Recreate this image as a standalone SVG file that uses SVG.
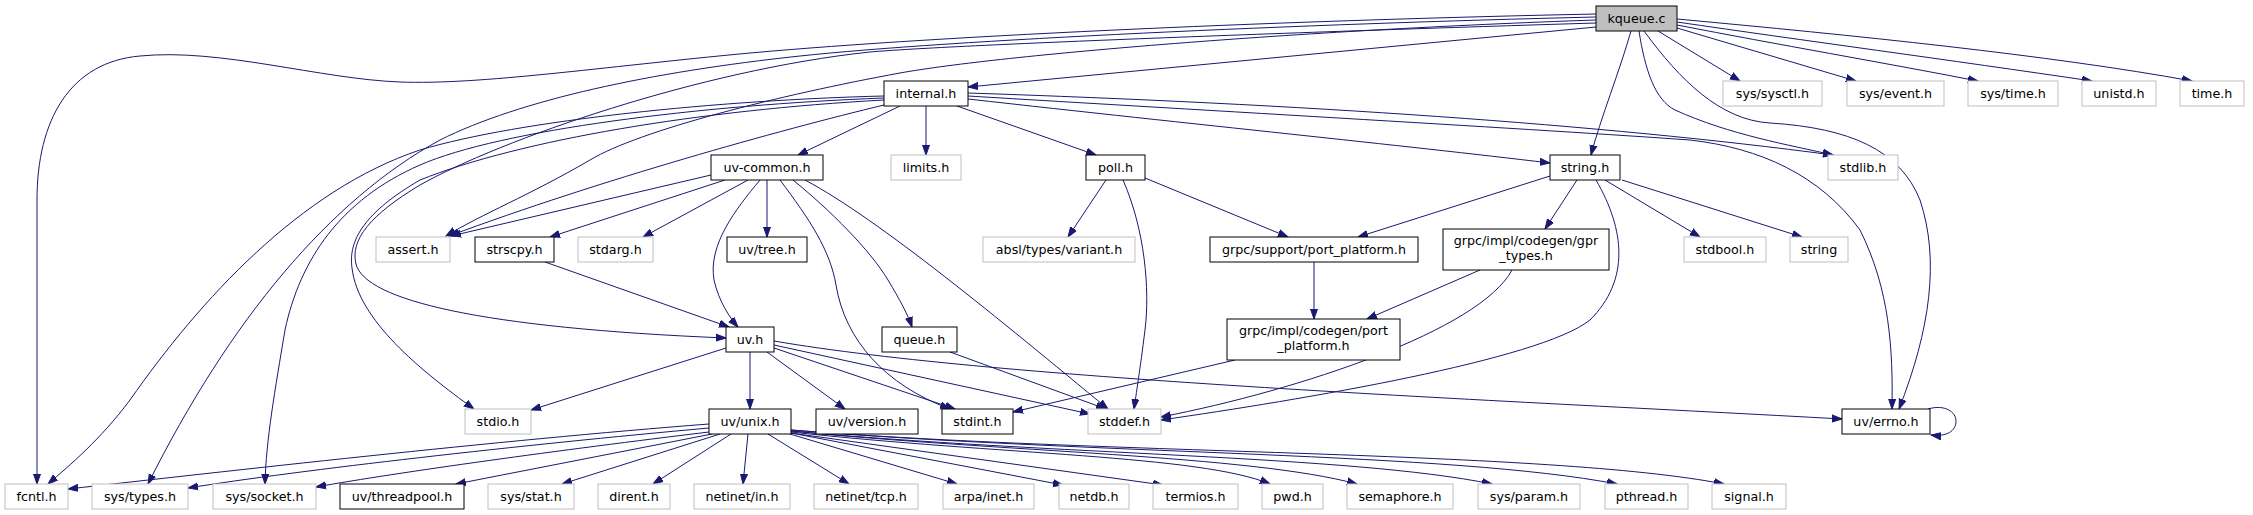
<svg xmlns="http://www.w3.org/2000/svg" width="2253" height="515" viewBox="0 0 2253 515">
<style>
.e{fill:none;stroke:#191970;stroke-width:1;marker-end:url(#a)}
.b{fill:#fff;stroke:#000;stroke-width:1}
.g{fill:#fff;stroke:#bfbfbf;stroke-width:1}
.r{fill:#bfbfbf;stroke:#000;stroke-width:1}
text{font-family:"DejaVu Sans","Liberation Sans",sans-serif;font-size:12.7px;fill:#000;text-anchor:middle}
</style>
<defs>
<marker id="a" markerWidth="11" markerHeight="9" refX="10" refY="4.5" orient="auto" markerUnits="userSpaceOnUse"><path d="M0,1 L10,4.5 L0,8 z" fill="#191970" stroke="#191970"/></marker>
</defs>
<rect width="2253" height="515" fill="#fff"/>
<g id="edges">
<!-- kqueue.c -->
<path class="e" d="M1596,27 L968,87"/>
<path class="e" d="M1631,31 C1620,70 1600,120 1591,155"/>
<path class="e" d="M1639,31 C1645,70 1655,100 1675,110 C1730,135 1790,145 1833,155"/>
<path class="e" d="M1644,31 C1680,80 1720,120 1770,123 C1850,128 1900,150 1920,200 C1940,260 1930,330 1899,409"/>
<path class="e" d="M1658,31 L1740,81"/>
<path class="e" d="M1677,28 L1856,81"/>
<path class="e" d="M1677,25 C1780,45 1880,62 1978,81"/>
<path class="e" d="M1677,22 C1800,40 1950,60 2092,81"/>
<path class="e" d="M1677,19 C1850,35 2050,55 2192,81"/>
<path class="e" d="M1596,14 C1300,20 950,35 750,53 C600,67 480,85 400,82 C320,79 220,48 140,56 C70,62 37,120 37,200 L37,484"/>
<path class="e" d="M1596,17 C1300,24 950,40 800,56 C650,72 520,100 440,140 C330,200 230,320 148,484"/>
<path class="e" d="M1596,20 C1300,30 1000,55 900,73 C780,95 640,130 590,160 C530,195 480,215 446,236"/>
<path class="e" d="M1596,23 C1300,32 950,45 870,52 C700,70 500,140 420,185 C370,215 350,240 356,264 C365,300 480,328 726,338"/>
<!-- internal.h -->
<path class="e" d="M900,106 L798,155"/>
<path class="e" d="M926,106 L926,155"/>
<path class="e" d="M957,106 L1096,155"/>
<path class="e" d="M968,99 C1200,125 1400,145 1550,163"/>
<path class="e" d="M968,93 C1300,104 1600,124 1833,155"/>
<path class="e" d="M968,96 C1200,110 1550,130 1690,140 C1760,148 1820,175 1860,230 C1890,290 1893,350 1892,409"/>
<path class="e" d="M884,105 C780,130 600,180 449,236"/>
<path class="e" d="M884,96 C720,100 520,120 420,150 C300,190 200,300 130,400 C100,440 70,465 48,484"/>
<path class="e" d="M884,98 C700,105 500,130 420,165 C340,200 300,260 285,330 C275,390 266,440 265,484"/>
<path class="e" d="M884,100 C700,110 520,140 420,180 C365,212 348,240 352,268 C358,320 420,370 474,409"/>
<!-- uv-common.h -->
<path class="e" d="M711,175 L451,236"/>
<path class="e" d="M725,180 L550,237"/>
<path class="e" d="M748,180 L643,237"/>
<path class="e" d="M767,180 L767,237"/>
<path class="e" d="M760,180 C735,210 708,245 714,280 C719,302 730,318 738,327"/>
<path class="e" d="M780,180 C810,220 830,250 836,285 C845,340 885,385 950,409"/>
<path class="e" d="M793,180 C830,210 870,250 888,280 C900,300 908,315 912,327"/>
<path class="e" d="M805,180 C880,220 1000,320 1108,409"/>
<!-- strscpy.h -->
<path class="e" d="M545,262 L729,327"/>
<!-- poll.h -->
<path class="e" d="M1106,180 L1068,237"/>
<path class="e" d="M1145,178 L1288,237"/>
<path class="e" d="M1123,180 C1145,230 1150,290 1145,330 C1140,370 1136,395 1134,409"/>
<!-- string.h -->
<path class="e" d="M1550,176 L1358,237"/>
<path class="e" d="M1577,180 L1545,229"/>
<path class="e" d="M1596,180 C1625,230 1630,280 1590,320 C1540,360 1300,400 1161,420"/>
<path class="e" d="M1605,180 L1700,237"/>
<path class="e" d="M1622,180 L1802,237"/>
<!-- grpc -->
<path class="e" d="M1314,262 L1314,319"/>
<path class="e" d="M1480,270 L1367,319"/>
<path class="e" d="M1512,270 C1480,330 1300,390 1161,417"/>
<path class="e" d="M1235,360 L1013,412"/>
<!-- queue.h -->
<path class="e" d="M950,352 L1106,409"/>
<!-- uv.h -->
<path class="e" d="M726,348 L531,410"/>
<path class="e" d="M750,352 L750,409"/>
<path class="e" d="M767,352 L845,409"/>
<path class="e" d="M774,348 L955,409"/>
<path class="e" d="M774,345 L1090,414"/>
<path class="e" d="M774,341 C1000,380 1500,400 1842,419"/>
<!-- uv/errno.h self -->
<path class="e" d="M1928,409 C1945,404 1956,412 1956,421 C1956,431 1947,437 1931,435"/>
<!-- uv/unix.h -->
<path class="e" d="M709,424 C500,440 220,472 68,489"/>
<path class="e" d="M709,428 C520,445 300,470 188,488"/>
<path class="e" d="M709,432 C560,450 400,472 316,487"/>
<path class="e" d="M712,434 L456,484"/>
<path class="e" d="M720,434 L562,484"/>
<path class="e" d="M731,434 L653,484"/>
<path class="e" d="M748,434 L743,484"/>
<path class="e" d="M768,434 L849,484"/>
<path class="e" d="M790,434 L957,484"/>
<path class="e" d="M791,433 L1063,485"/>
<path class="e" d="M791,433 L1163,485"/>
<path class="e" d="M791,432 C1000,455 1200,455 1270,484"/>
<path class="e" d="M791,431 C1000,452 1250,455 1357,484"/>
<path class="e" d="M791,431 C1050,455 1350,455 1492,484"/>
<path class="e" d="M791,430 C1100,455 1450,452 1617,484"/>
<path class="e" d="M791,430 C1100,455 1550,450 1724,484"/>
</g>
<g id="n_kqueue"><rect class="r" x="1596" y="6" width="81" height="25"/><text x="1636.5" y="23">kqueue.c</text></g>
<g id="n_internal"><rect class="b" x="884" y="81" width="84" height="25"/><text x="926" y="98">internal.h</text></g>
<g id="n_sysctl"><rect class="g" x="1723" y="81" width="99" height="25"/><text x="1772.5" y="98">sys/sysctl.h</text></g>
<g id="n_event"><rect class="g" x="1847" y="81" width="97" height="25"/><text x="1895.5" y="98">sys/event.h</text></g>
<g id="n_systime"><rect class="g" x="1968" y="81" width="90" height="25"/><text x="2013" y="98">sys/time.h</text></g>
<g id="n_unistd"><rect class="g" x="2082" y="81" width="74" height="25"/><text x="2119" y="98">unistd.h</text></g>
<g id="n_time"><rect class="g" x="2180" y="81" width="64" height="25"/><text x="2212" y="98">time.h</text></g>
<g id="n_uvcommon"><rect class="b" x="711" y="155" width="112" height="25"/><text x="767" y="172">uv-common.h</text></g>
<g id="n_limits"><rect class="g" x="891" y="155" width="70" height="25"/><text x="926" y="172">limits.h</text></g>
<g id="n_poll"><rect class="b" x="1086" y="155" width="59" height="25"/><text x="1115.5" y="172">poll.h</text></g>
<g id="n_stringh"><rect class="b" x="1550" y="155" width="70" height="25"/><text x="1585" y="172">string.h</text></g>
<g id="n_stdlib"><rect class="g" x="1828" y="155" width="70" height="25"/><text x="1863" y="172">stdlib.h</text></g>
<g id="n_assert"><rect class="g" x="376" y="237" width="74" height="25"/><text x="413" y="254">assert.h</text></g>
<g id="n_strscpy"><rect class="b" x="475" y="237" width="79" height="25"/><text x="514.5" y="254">strscpy.h</text></g>
<g id="n_stdarg"><rect class="g" x="578" y="237" width="75" height="25"/><text x="615.5" y="254">stdarg.h</text></g>
<g id="n_uvtree"><rect class="b" x="727" y="237" width="80" height="25"/><text x="767" y="254">uv/tree.h</text></g>
<g id="n_absl"><rect class="g" x="983" y="237" width="152" height="25"/><text x="1059" y="254">absl/types/variant.h</text></g>
<g id="n_grpcsupport"><rect class="b" x="1210" y="237" width="208" height="25"/><text x="1314" y="254">grpc/support/port_platform.h</text></g>
<g id="n_gprtypes"><rect class="b" x="1443" y="229" width="166" height="41"/><text x="1526" y="245">grpc/impl/codegen/gpr</text><text x="1526" y="260">_types.h</text></g>
<g id="n_stdbool"><rect class="g" x="1684" y="237" width="82" height="25"/><text x="1725" y="254">stdbool.h</text></g>
<g id="n_string"><rect class="g" x="1790" y="237" width="58" height="25"/><text x="1819" y="254">string</text></g>
<g id="n_uv"><rect class="b" x="726" y="327" width="48" height="25"/><text x="750" y="344">uv.h</text></g>
<g id="n_queue"><rect class="b" x="882" y="327" width="75" height="25"/><text x="919.5" y="344">queue.h</text></g>
<g id="n_codegenpp"><rect class="b" x="1227" y="319" width="173" height="41"/><text x="1313.5" y="335">grpc/impl/codegen/port</text><text x="1313.5" y="350">_platform.h</text></g>
<g id="n_stdio"><rect class="g" x="465" y="409" width="66" height="25"/><text x="498" y="426">stdio.h</text></g>
<g id="n_uvunix"><rect class="b" x="709" y="409" width="82" height="25"/><text x="750" y="426">uv/unix.h</text></g>
<g id="n_uvversion"><rect class="b" x="816" y="409" width="102" height="25"/><text x="867" y="426">uv/version.h</text></g>
<g id="n_stdint"><rect class="b" x="942" y="409" width="71" height="25"/><text x="977.5" y="426">stdint.h</text></g>
<g id="n_stddef"><rect class="g" x="1088" y="409" width="73" height="25"/><text x="1124.5" y="426">stddef.h</text></g>
<g id="n_uverrno"><rect class="b" x="1842" y="409" width="88" height="25"/><text x="1886" y="426">uv/errno.h</text></g>
<g id="n_fcntl"><rect class="g" x="5" y="484" width="63" height="25"/><text x="36.5" y="501">fcntl.h</text></g>
<g id="n_systypes"><rect class="g" x="92" y="484" width="96" height="25"/><text x="140" y="501">sys/types.h</text></g>
<g id="n_syssocket"><rect class="g" x="213" y="484" width="103" height="25"/><text x="264.5" y="501">sys/socket.h</text></g>
<g id="n_threadpool"><rect class="b" x="340" y="484" width="124" height="25"/><text x="402" y="501">uv/threadpool.h</text></g>
<g id="n_sysstat"><rect class="g" x="488" y="484" width="86" height="25"/><text x="531" y="501">sys/stat.h</text></g>
<g id="n_dirent"><rect class="g" x="598" y="484" width="72" height="25"/><text x="634" y="501">dirent.h</text></g>
<g id="n_netinetin"><rect class="g" x="694" y="484" width="96" height="25"/><text x="742" y="501">netinet/in.h</text></g>
<g id="n_netinettcp"><rect class="g" x="814" y="484" width="104" height="25"/><text x="866" y="501">netinet/tcp.h</text></g>
<g id="n_arpainet"><rect class="g" x="943" y="484" width="91" height="25"/><text x="988.5" y="501">arpa/inet.h</text></g>
<g id="n_netdb"><rect class="g" x="1059" y="484" width="70" height="25"/><text x="1094" y="501">netdb.h</text></g>
<g id="n_termios"><rect class="g" x="1153" y="484" width="85" height="25"/><text x="1195.5" y="501">termios.h</text></g>
<g id="n_pwd"><rect class="g" x="1262" y="484" width="61" height="25"/><text x="1292.5" y="501">pwd.h</text></g>
<g id="n_semaphore"><rect class="g" x="1347" y="484" width="106" height="25"/><text x="1400" y="501">semaphore.h</text></g>
<g id="n_sysparam"><rect class="g" x="1478" y="484" width="102" height="25"/><text x="1529" y="501">sys/param.h</text></g>
<g id="n_pthread"><rect class="g" x="1605" y="484" width="83" height="25"/><text x="1646.5" y="501">pthread.h</text></g>
<g id="n_signal"><rect class="g" x="1712" y="484" width="74" height="25"/><text x="1749" y="501">signal.h</text></g>
</svg>
